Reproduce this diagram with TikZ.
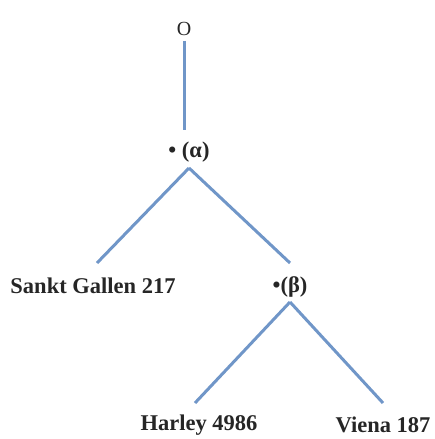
\documentclass[tikz,border=0pt]{standalone}
\usepackage{fontspec}
\setmainfont{Liberation Serif}
\usepackage{tikz}
\usetikzlibrary{calc}

\definecolor{stemblue}{RGB}{112,150,200}

\begin{document}
\begin{tikzpicture}[x=1pt,y=-1pt,
  ms/.style={font=\fontsize{22.5}{26}\selectfont\bfseries, text=black!85, inner sep=1pt},
  branch/.style={draw=stemblue, line width=3pt}]
\useasboundingbox (0,0) rectangle (434,439);
% nodes of the stemma
\node [ms, font=\fontsize{20}{24}\selectfont] (o) at (184,29) {O};
\node [ms] (alpha) at (189,152) {• (α)};
\node [ms] (sankt) at (93,286) {Sankt Gallen 217};
\node [ms] (beta) at (290,287) {•(β)};
\node [ms] (harley) at (199,425) {Harley 4986};
\node [ms] (viena) at (383,425) {Viena 187};
% branch ends
\coordinate (o1) at ($(o.south)+(0,4)$);
\coordinate (a0) at (184,130);
\coordinate (a1) at (189,168);
\coordinate (s1) at (97,263);
\coordinate (b0) at (290,263);
\coordinate (b1) at (290,302);
\coordinate (h1) at (195,403);
\coordinate (v1) at (383,403);
% branches
\draw [branch] (o1) -- (a0);
\draw [branch] (a1) -- (s1);
\draw [branch] (a1) -- (b0);
\draw [branch] (b1) -- (h1);
\draw [branch] (b1) -- (v1);
\end{tikzpicture}
\end{document}
